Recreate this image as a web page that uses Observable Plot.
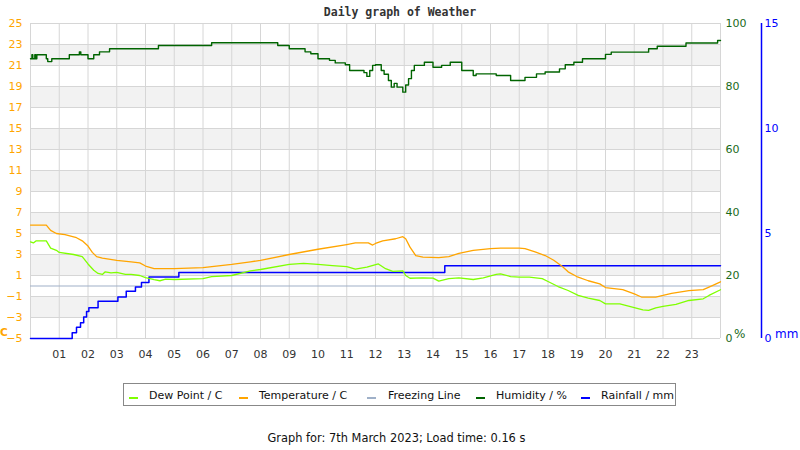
<!DOCTYPE html>
<html>
<head>
<meta charset="utf-8">
<script src="https://cdn.jsdelivr.net/npm/d3@7"></script>
<script src="https://cdn.jsdelivr.net/npm/@observablehq/plot@0.6"></script>
<style>
  body { margin: 0; background: #fff; }
  #wrap { position: relative; width: 800px; height: 450px; font-family: "DejaVu Sans", sans-serif; }
  #wrap svg { position: absolute; left: 0; top: 0; }
  .ov { position: absolute; white-space: nowrap; line-height: 1; }
  #title { left: 0; width: 800px; top: 7px; text-align: center; font-family: "DejaVu Sans Mono", monospace; font-weight: bold; font-size: 11.5px; color: #333; }
  #caption { left: 0; width: 793px; top: 433px; text-align: center; font-size: 11.4px; color: #111; }
  #legend { left: 123px; top: 383px; width: 553px; height: 23px; border: 1px solid #888; box-sizing: border-box; }
  .li { position: absolute; top: 6px; font-size: 11px; color: #111; }
  .sw { position: absolute; top: 13px; width: 9px; height: 2px; }
</style>
</head>
<body>
<div id="wrap">
  <div id="title" class="ov">Daily graph of Weather</div>
  <div id="legend" class="ov"></div>
  <div id="caption" class="ov">Graph for: 7th March 2023; Load time: 0.16 s</div>
  <div class="ov" style="left:0px;top:327px;font-size:10.5px;font-weight:bold;color:#FFA500">C</div>
  <div class="ov" style="left:734px;top:328px;font-size:12px;color:#1a6b1a">%</div>
  <div class="ov" style="left:775px;top:328px;font-size:12px;color:#0000ff">mm</div>
</div>
<script>
// hours of day
const xTicks = d3.range(1, 24);
const xTickLabels = xTicks.map(h => String(h).padStart(2, "0"));
const tempTicks = d3.range(-5, 26, 2);
const humTicks = [0, 20, 40, 60, 80, 100];
const rainTicks = [0, 5, 10, 15];

// [hour, °C]
const temperature = [[0,5.8],[0.55,5.8],[0.7,5.3],[0.9,5.0],[1.2,4.9],[1.6,4.6],[1.8,4.3],[2.0,3.8],[2.15,3.2],[2.3,2.8],[2.5,2.65],[3.0,2.45],[3.5,2.3],[3.8,2.2],[4.0,1.9],[4.3,1.65],[5.0,1.65],[6.0,1.75],[7.0,2.05],[7.65,2.3],[8.0,2.45],[9.0,3.0],[10.0,3.5],[11.0,3.95],[11.3,4.1],[11.75,4.1],[11.9,3.9],[12.0,4.05],[12.25,4.3],[12.7,4.5],[12.95,4.7],[13.05,4.5],[13.2,3.7],[13.4,2.9],[13.65,2.75],[14.2,2.7],[14.55,2.8],[14.9,3.1],[15.4,3.4],[16.0,3.55],[16.35,3.6],[17.0,3.6],[17.2,3.55],[17.55,3.25],[17.9,2.9],[18.2,2.45],[18.5,1.85],[18.7,1.35],[19.0,0.9],[19.4,0.5],[19.8,0.2],[20.0,-0.15],[20.6,-0.35],[21.0,-0.75],[21.25,-1.05],[21.75,-1.05],[22.0,-0.9],[22.3,-0.7],[22.9,-0.45],[23.4,-0.35],[23.6,-0.1],[24.0,0.4]];

// [hour, °C]
const dewPoint = [[0,4.2],[0.1,4.1],[0.2,4.3],[0.55,4.3],[0.7,3.6],[0.9,3.4],[1.0,3.2],[1.5,3.0],[1.8,2.8],[2.0,2.1],[2.2,1.5],[2.35,1.2],[2.5,1.1],[2.6,1.35],[2.8,1.25],[3.0,1.3],[3.3,1.1],[3.5,1.1],[3.8,1.0],[4.0,0.8],[4.3,0.6],[4.5,0.5],[4.7,0.65],[5.0,0.62],[6.0,0.7],[6.3,0.9],[7.0,1.0],[7.65,1.45],[8.0,1.57],[9.0,2.05],[9.5,2.15],[10.0,2.05],[10.5,1.95],[11.0,1.85],[11.3,1.6],[11.7,1.8],[12.1,2.1],[12.35,1.65],[12.6,1.4],[12.95,1.45],[13.05,1.0],[13.2,0.74],[13.65,0.78],[14.0,0.75],[14.2,0.46],[14.55,0.7],[14.9,0.78],[15.4,0.62],[15.75,0.78],[16.2,1.1],[16.35,1.15],[16.7,0.9],[17.0,0.85],[17.35,0.85],[17.8,0.7],[18.0,0.43],[18.35,-0.05],[18.7,-0.43],[19.05,-0.9],[19.4,-1.15],[19.8,-1.38],[20.0,-1.7],[20.5,-1.7],[20.8,-1.92],[21.3,-2.27],[21.5,-2.33],[21.75,-2.08],[22.0,-1.95],[22.45,-1.76],[22.9,-1.38],[23.4,-1.22],[23.6,-0.9],[24.0,-0.36]];

// [hour, %]
const humidity = [[0,88.8],[0.05,90.1],[0.08,88.8],[0.15,90.1],[0.18,88.8],[0.22,90.1],[0.55,88.8],[0.6,87.9],[0.74,88.8],[1.35,90.1],[1.7,91.0],[1.75,90.1],[2.0,88.8],[2.2,90.1],[2.4,91.0],[2.75,92.0],[4.45,93.0],[6.3,93.9],[8.6,93.0],[9.0,92.0],[9.55,91.0],[9.75,90.4],[10.0,88.8],[10.4,88.3],[10.6,87.5],[10.95,86.9],[11.1,85.1],[11.6,84.4],[11.7,83.2],[11.8,85.1],[11.9,86.7],[12.0,86.9],[12.2,85.1],[12.3,83.9],[12.45,81.9],[12.55,79.8],[12.65,81.0],[12.75,79.8],[12.95,78.2],[13.05,80.5],[13.15,82.5],[13.25,85.1],[13.35,86.7],[13.7,87.7],[14.0,86.1],[14.3,86.7],[14.6,87.7],[15.0,85.1],[15.4,83.5],[15.5,84.0],[16.0,84.0],[16.2,83.5],[16.7,81.9],[17.2,82.9],[17.6,84.0],[17.9,84.6],[18.4,85.6],[18.6,86.9],[18.9,87.7],[19.2,88.8],[20.0,90.2],[20.2,90.9],[21.5,92.0],[21.8,92.8],[22.8,93.8],[23.9,94.6],[24,94.6]];

// [hour, mm]
const rainfall = [[0,0],[1.45,0.27],[1.6,0.54],[1.74,0.75],[1.85,1.02],[1.95,1.29],[2.03,1.47],[2.35,1.77],[3.04,1.98],[3.33,2.25],[3.65,2.45],[3.86,2.67],[4.12,2.93],[5.16,3.14],[14.41,3.46],[24,3.46]];

const bands = [[21,23],[17,19],[13,15],[9,11],[5,7],[1,3],[-3,-1]];

const legendItems = [
  {label: "Dew Point / C", color: "#7FFF00", sx: 5, tx: 25},
  {label: "Temperature / C", color: "#FFA500", sx: 115, tx: 135},
  {label: "Freezing Line", color: "#9FB0C8", sx: 243, tx: 264},
  {label: "Humidity / %", color: "#006400", sx: 352, tx: 372},
  {label: "Rainfall / mm", color: "#0000FF", sx: 457, tx: 477}
];

const humToY = p => -5 + p * 0.3;   // 0..100 % -> -5..25
const rainToY = m => -5 + m * 2;    // 0..15 mm -> -5..25
const yToHum = y => Math.round((y + 5) / 0.3);
const yToRain = y => Math.round((y + 5) / 2);

const grid = "#d6d6d6";
const chart = Plot.plot({
  width: 800,
  height: 450,
  marginLeft: 30,
  marginRight: 80,
  marginTop: 23,
  marginBottom: 112,
  style: {fontFamily: "DejaVu Sans, sans-serif", fontSize: "11px", background: "transparent", overflow: "visible"},
  x: {domain: [0, 24]},
  y: {domain: [-5, 25]},
  marks: [
    Plot.rect(bands, {x1: () => 0, x2: () => 24, y1: d => d[0], y2: d => d[1], fill: "#f2f2f2"}),
    Plot.gridY(tempTicks, {stroke: grid, strokeOpacity: 1}),
    Plot.gridX(d3.range(0, 25), {stroke: grid, strokeOpacity: 1}),
    Plot.ruleY([0], {stroke: "#9FB0C8", strokeWidth: 1.2}),
    Plot.line(rainfall, {x: d => d[0], y: d => rainToY(d[1]), curve: "step-after", stroke: "#0000FF", strokeWidth: 1.5}),
    Plot.line(dewPoint, {x: d => d[0], y: d => d[1], stroke: "#7FFF00", strokeWidth: 1.3}),
    Plot.line(temperature, {x: d => d[0], y: d => d[1], stroke: "#FFA500", strokeWidth: 1.3}),
    Plot.line(humidity, {x: d => d[0], y: d => humToY(d[1]), curve: "step-after", stroke: "#006400", strokeWidth: 1.4}),
    Plot.axisX(xTicks, {tickSize: 0, tickPadding: 12, tickFormat: (d, i) => xTickLabels[i], fill: "#333", fontSize: 11}),
    Plot.axisY(tempTicks, {anchor: "left", tickSize: 0, tickPadding: 8, fill: "#FFA500", fontSize: 11}),
    Plot.axisY(humTicks.map(humToY), {anchor: "right", tickSize: 0, tickPadding: 5, tickFormat: yToHum, fill: "#1a6b1a", fontSize: 11}),
    Plot.axisY(rainTicks.map(rainToY), {anchor: "right", tickSize: 0, tickPadding: 5, dx: 39, tickFormat: yToRain, fill: "#0000FF", fontSize: 11}),
    Plot.ruleX([24], {dx: 41, stroke: "#0000FF", strokeWidth: 1.5})
  ]
});
document.getElementById("wrap").prepend(chart);

const legend = document.getElementById("legend");
for (const it of legendItems) {
  const sw = document.createElement("div");
  sw.className = "sw";
  sw.style.left = it.sx + "px";
  sw.style.background = it.color;
  legend.appendChild(sw);
  const t = document.createElement("div");
  t.className = "li";
  t.style.left = it.tx + "px";
  t.textContent = it.label;
  legend.appendChild(t);
}
</script>
</body>
</html>
